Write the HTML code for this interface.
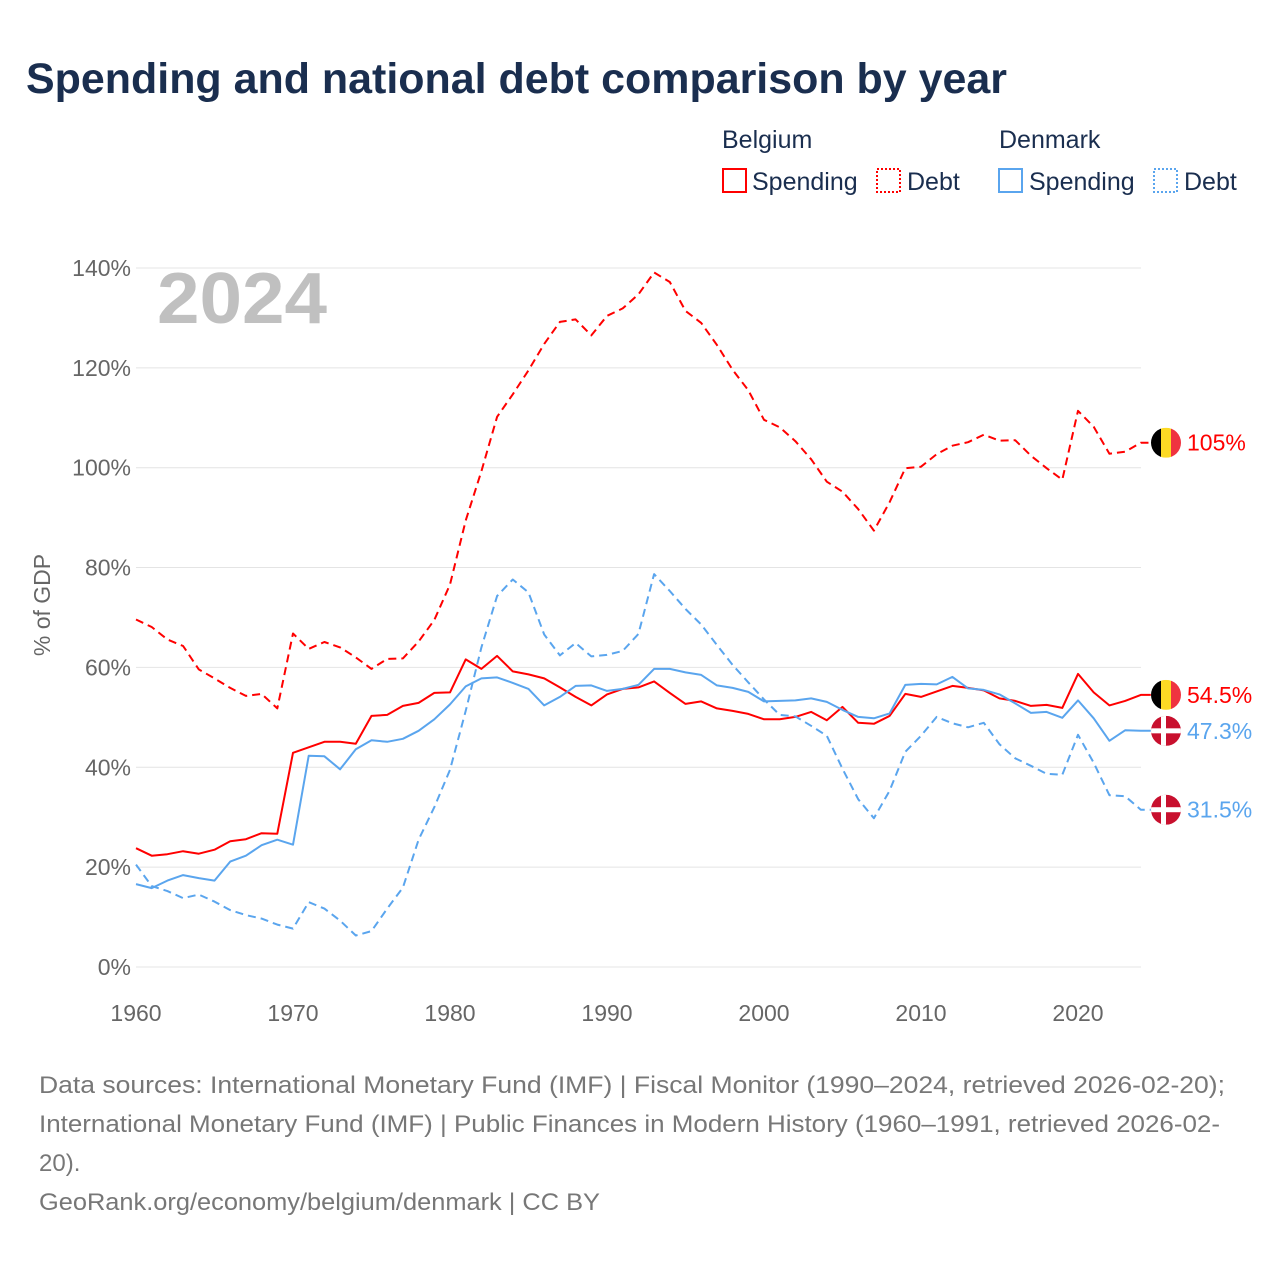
<!DOCTYPE html>
<html><head><meta charset="utf-8"><style>
body{margin:0;background:#fff;width:1280px;height:1280px;overflow:hidden;font-family:"Liberation Sans",sans-serif}
</style></head><body>
<svg width="1280" height="1280" style="position:absolute;left:0;top:0;font-family:'Liberation Sans',sans-serif">
<text x="26" y="93" font-size="43" font-weight="bold" fill="#1a2e4f" textLength="981" lengthAdjust="spacingAndGlyphs">Spending and national debt comparison by year</text>
<g font-size="25" fill="#1a2e4f">
<text x="722" y="148">Belgium</text><text x="999" y="148">Denmark</text>
<rect x="723" y="169" width="23" height="23" fill="none" stroke="#f00" stroke-width="2"/><text x="752" y="190">Spending</text>
<rect x="877" y="169" width="23" height="23" fill="none" stroke="#f00" stroke-width="2" stroke-dasharray="2,2"/><text x="907" y="190">Debt</text>
<rect x="999" y="169" width="23" height="23" fill="none" stroke="#5aa5ee" stroke-width="2"/><text x="1029" y="190">Spending</text>
<rect x="1154" y="169" width="23" height="23" fill="none" stroke="#5aa5ee" stroke-width="2" stroke-dasharray="2,2"/><text x="1184" y="190">Debt</text>
</g>
<text x="157" y="323" font-size="72" font-weight="bold" fill="#c0c0c0" textLength="170" lengthAdjust="spacingAndGlyphs">2024</text>
<text transform="translate(50,605) rotate(-90)" text-anchor="middle" font-size="23" fill="#666">% of GDP</text>
<g id="grid"></g><g id="series"></g>
<g font-size="24" fill="#777">
<text x="39" y="1093" textLength="1186" lengthAdjust="spacingAndGlyphs">Data sources: International Monetary Fund (IMF) | Fiscal Monitor (1990–2024, retrieved 2026-02-20);</text>
<text x="39" y="1132" textLength="1181" lengthAdjust="spacingAndGlyphs">International Monetary Fund (IMF) | Public Finances in Modern History (1960–1991, retrieved 2026-02-</text>
<text x="39" y="1171">20).</text>
<text x="39" y="1210" textLength="561" lengthAdjust="spacingAndGlyphs">GeoRank.org/economy/belgium/denmark | CC BY</text>
</g>
</svg>
<script>
const years=[];for(let y=1960;y<=2024;y++)years.push(y);
const yTicks=[0,20,40,60,80,100,120,140];
const xTicks=[1960,1970,1980,1990,2000,2010,2020];
const beSpending=[23.8,22.3,22.6,23.2,22.7,23.5,25.2,25.6,26.8,26.7,42.9,44.0,45.1,45.1,44.7,50.3,50.5,52.3,52.9,54.9,55.0,61.6,59.7,62.3,59.2,58.6,57.8,56.0,54.1,52.4,54.6,55.7,56.0,57.2,54.9,52.7,53.2,51.8,51.3,50.7,49.6,49.6,50.1,51.1,49.4,52.1,48.9,48.7,50.3,54.7,54.1,55.2,56.3,55.9,55.4,53.8,53.3,52.3,52.5,51.9,58.7,55.0,52.4,53.3,54.5];
const beDebt=[69.6,68.1,65.6,64.3,59.6,57.8,55.9,54.3,54.7,51.8,66.8,63.7,65.1,64.0,62.0,59.7,61.7,61.8,65.2,69.5,76.6,89.4,99.3,110.2,114.7,119.5,124.8,129.2,129.7,126.5,130.4,131.9,134.7,139.1,137.2,131.4,129.0,124.6,119.6,115.5,109.6,108.1,105.3,101.7,97.2,95.2,91.7,87.4,93.1,99.9,100.2,102.7,104.4,105.1,106.6,105.4,105.5,102.4,99.9,97.6,111.4,108.2,102.8,103.2,105];
const dkSpending=[16.6,15.8,17.3,18.4,17.8,17.3,21.1,22.3,24.4,25.5,24.5,42.3,42.2,39.6,43.6,45.4,45.1,45.7,47.3,49.6,52.6,56.2,57.8,58.0,56.9,55.7,52.4,54.1,56.3,56.4,55.3,55.7,56.5,59.7,59.7,59.0,58.5,56.4,55.9,55.1,53.2,53.3,53.4,53.8,53.1,51.5,50.1,49.8,50.8,56.5,56.7,56.6,58.1,55.8,55.5,54.6,52.8,50.9,51.1,49.9,53.4,49.8,45.3,47.4,47.3];
const dkDebt=[20.5,16.2,15.2,13.8,14.5,13.1,11.4,10.4,9.7,8.5,7.7,13.0,11.7,9.3,6.3,7.2,11.7,15.9,25.5,32.0,39.5,51.3,64.0,74.3,77.6,75.0,66.6,62.4,64.9,62.2,62.5,63.3,66.7,78.7,75.3,71.7,68.6,64.5,60.5,57.0,53.6,50.5,50.2,48.3,46.3,39.7,33.6,29.8,35.3,43.1,46.3,50.1,48.8,48.0,48.9,44.6,41.8,40.3,38.7,38.5,46.5,40.9,34.4,34.2,31.5];
const NS="http://www.w3.org/2000/svg";
const X=y=>136+(y-1960)*15.7;
const Y=v=>967-v*4.993;
function mk(t,a,p){const e=document.createElementNS(NS,t);for(const k in a)e.setAttribute(k,a[k]);p.appendChild(e);return e;}
const g=document.getElementById('grid');
yTicks.forEach(v=>{
 const l=mk('line',{x1:136,x2:1141,y1:Y(v),y2:Y(v),stroke:'#e4e4e4','stroke-width':1},g);
 
 
 const t=mk('text',{x:131,y:Y(v)+8,'text-anchor':'end','font-size':23,fill:'#666'},g);t.textContent=v+'%';
 
 
});
xTicks.forEach(yr=>{
 const t=mk('text',{x:X(yr),y:1021,'text-anchor':'middle','font-size':23,fill:'#666'},g);t.textContent=yr;
 
 
});
const s=document.getElementById('series');
function line(vals,color,dash,name,label,flag){
 const pts=vals.map((v,i)=>X(years[i]).toFixed(1)+','+Y(v).toFixed(1));
 pts.push((X(2024)+10).toFixed(1)+','+Y(vals[vals.length-1]).toFixed(1));
 const p=mk('polyline',{points:pts.join(' '),fill:'none',stroke:color,'stroke-width':2,'stroke-dasharray':dash,'stroke-linejoin':'round'},s);
 
 
 const cy=Y(vals[vals.length-1]);
 const fg=mk('g',{},s);
 
 
 mk('clipPath',{id:'c'+name},fg);
 mk('circle',{cx:1166,cy:cy,r:15},document.getElementById('c'+name));
 const fgc=mk('g',{'clip-path':'url(#c'+name+')'},fg);
 if(flag==='be'){mk('rect',{x:1151,y:cy-15,width:10,height:30,fill:'#000'},fgc);mk('rect',{x:1161,y:cy-15,width:10,height:30,fill:'#fdda24'},fgc);mk('rect',{x:1171,y:cy-15,width:10,height:30,fill:'#ef3340'},fgc);}
 else{mk('rect',{x:1151,y:cy-15,width:30,height:30,fill:'#c8102e'},fgc);mk('rect',{x:1161,y:cy-15,width:5,height:30,fill:'#fff'},fgc);mk('rect',{x:1151,y:cy-2.5,width:30,height:5,fill:'#fff'},fgc);}
 const t=mk('text',{x:1187,y:cy+8,'font-size':23,fill:color},s);t.textContent=label;
 
 
}
line(beDebt,'#f00','8,5','belgium-debt-line','105%','be');
line(beSpending,'#f00','','belgium-spending-line','54.5%','be');
line(dkSpending,'#5aa5ee','','denmark-spending-line','47.3%','dk');
line(dkDebt,'#5aa5ee','8,5','denmark-debt-line','31.5%','dk');
</script>
</body></html>
